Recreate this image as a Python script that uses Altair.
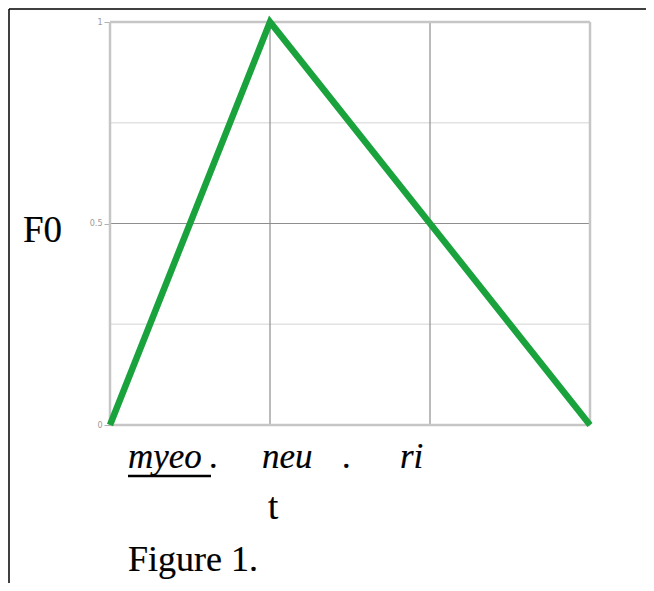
import altair as alt
import pandas as pd

# data
time = [0, 1, 3]
f0 = [0, 1, 0]
frame_x = [0, 3]
frame_y = [0, 1]
major_x = [1, 2]
major_y = [0.5]
minor_y = [0.25, 0.75]
y_ticks = [0, 0.5, 1]

syllables = ["myeo", ".", "neu", ".", "ri"]

FONT = "Liberation Serif"
W, H = 480, 403

xs = alt.Scale(domain=[0, 3], nice=False, zero=False)
ys = alt.Scale(domain=[0, 1], nice=False)

y_axis = alt.Axis(
    values=y_ticks, grid=False, domain=False, title=None, format="~g",
    labelFontSize=8, labelColor="#9a9a9a", tickColor="#b0b0b0",
    tickSize=6, labelPadding=2, labelFont="DejaVu Sans")

line_df = pd.DataFrame({"t": time, "f0": f0})

minor_h = alt.Chart(pd.DataFrame({"y": minor_y})).mark_rule(color="#e2e2e2", strokeWidth=1.5).encode(
    y=alt.Y("y:Q", scale=ys, axis=y_axis))
major_v = alt.Chart(pd.DataFrame({"x": major_x})).mark_rule(color="#8e8e8e", strokeWidth=1.2).encode(
    x=alt.X("x:Q", scale=xs, axis=None))
major_h = alt.Chart(pd.DataFrame({"y": major_y})).mark_rule(color="#8e8e8e", strokeWidth=1.2).encode(
    y=alt.Y("y:Q", scale=ys, axis=y_axis))
frame_v = alt.Chart(pd.DataFrame({"x": frame_x})).mark_rule(color="#c6c6c6", strokeWidth=2.5).encode(
    x=alt.X("x:Q", scale=xs, axis=None))
frame_h = alt.Chart(pd.DataFrame({"y": frame_y})).mark_rule(color="#c6c6c6", strokeWidth=2.5).encode(
    y=alt.Y("y:Q", scale=ys, axis=y_axis))

line = alt.Chart(line_df).mark_line(color="#1aa33d", strokeWidth=6.5).encode(
    x=alt.X("t:Q", scale=xs, axis=None),
    y=alt.Y("f0:Q", scale=ys, axis=y_axis),
)

def txt(s, x, y, italic=True, size=35, align="left"):
    return alt.Chart(pd.DataFrame({"s": [s]})).mark_text(
        font=FONT, fontSize=size, fontStyle="italic" if italic else "normal",
        align=align, baseline="alphabetic", color="black",
        stroke="black", strokeWidth=0.2).encode(
        text="s:N", x=alt.value(x), y=alt.value(y))

labels = [
    txt(syllables[0], 18, 446),
    txt(syllables[1], 104, 446, align="center"),
    txt(syllables[2], 152, 446),
    txt(syllables[3], 237, 446, align="center"),
    txt(syllables[4], 290, 446),
    txt("t", 158, 497, italic=False, size=37),
    txt("F0", -87, 220, italic=False, size=37),
    txt("Figure 1.", 18, 549, italic=False, size=36),
]

underline = alt.Chart(pd.DataFrame({"a": [0]})).mark_rule(color="black", strokeWidth=2.5).encode(
    x=alt.value(18), x2=alt.value(101), y=alt.value(454))

border_top = alt.Chart(pd.DataFrame({"a": [0]})).mark_rule(color="black", strokeWidth=1.5).encode(
    x=alt.value(-101), x2=alt.value(W + 56), y=alt.value(-13))
border_left = alt.Chart(pd.DataFrame({"a": [0]})).mark_rule(color="black", strokeWidth=1.5).encode(
    x=alt.value(-101), y=alt.value(-13), y2=alt.value(H + 158))

chart = alt.layer(
    minor_h, major_v, major_h, frame_v, frame_h, line, underline, border_top, border_left, *labels
).properties(
    width=W, height=H,
    autosize=alt.AutoSizeParams(type="none"),
    padding={"left": 102, "top": 14, "right": 56, "bottom": 158},
).configure_view(stroke=None).configure(background="white")

chart.save("out.html", embed_options={"renderer": "svg", "actions": False})
